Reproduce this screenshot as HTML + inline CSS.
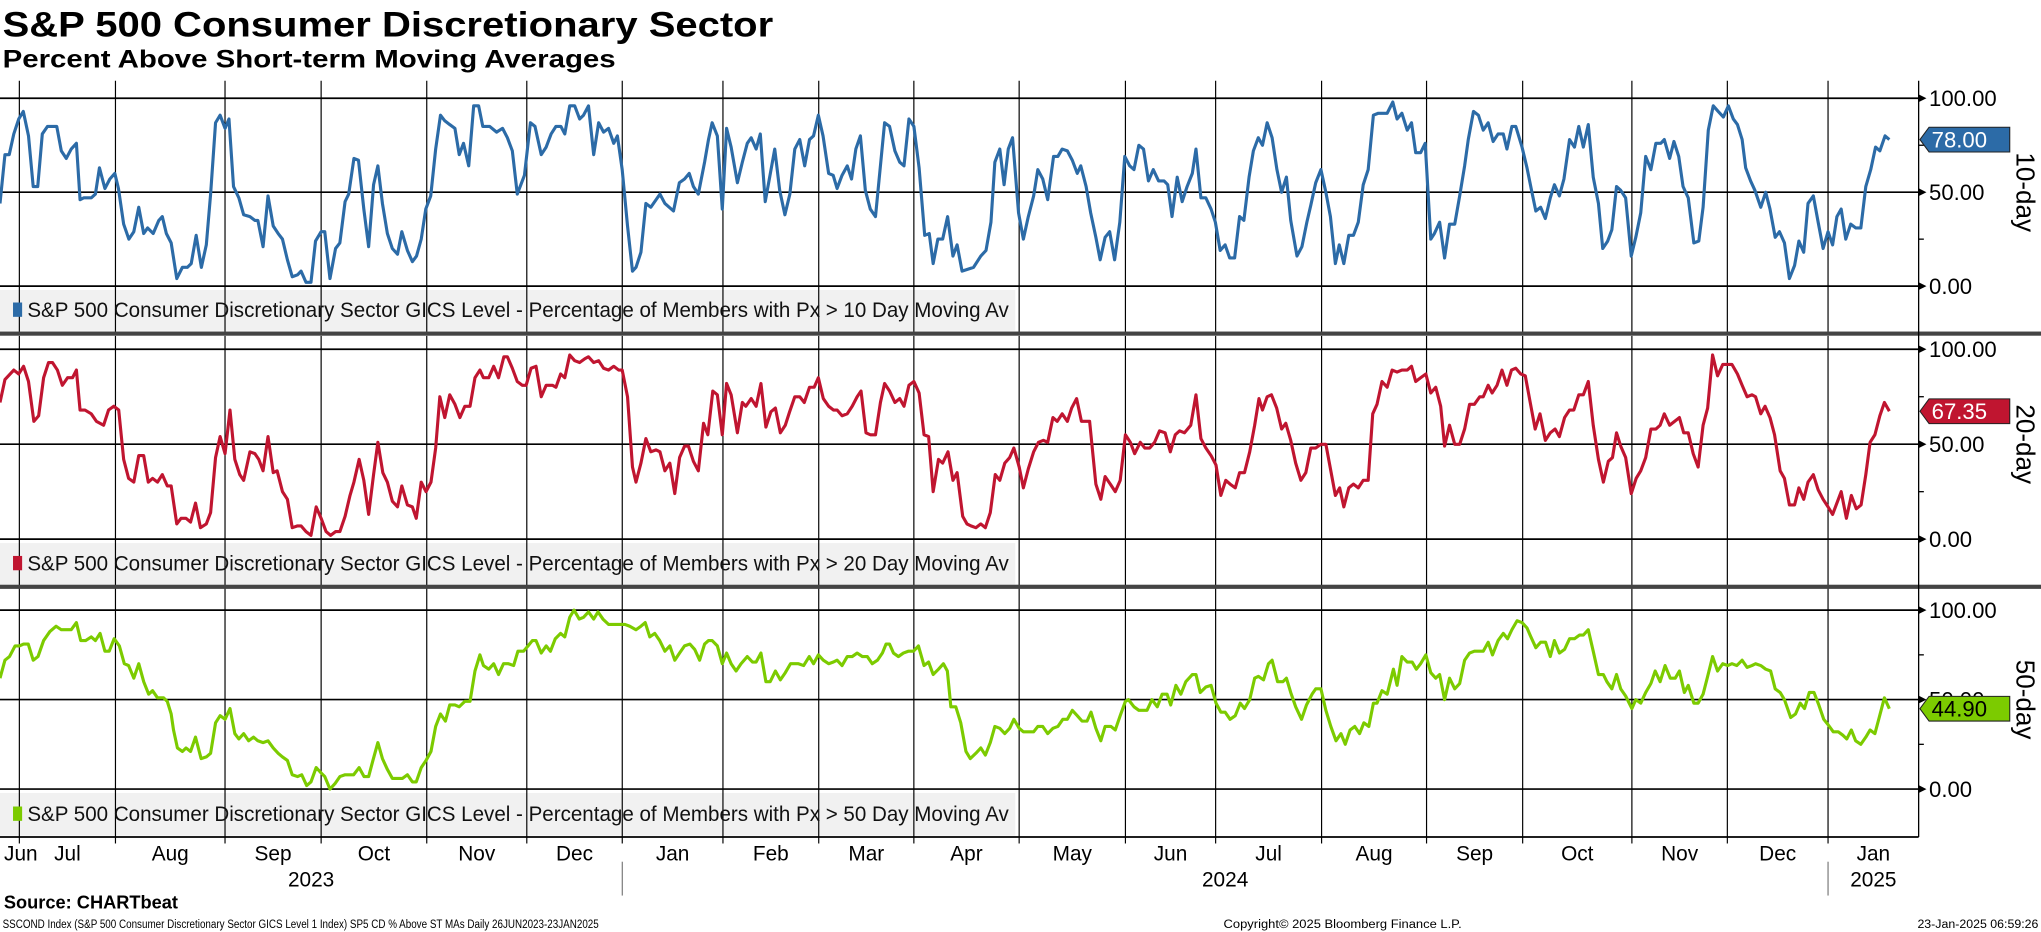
<!DOCTYPE html>
<html><head><meta charset="utf-8"><style>
html,body{margin:0;padding:0;background:#fff;}
svg{display:block;font-family:"Liberation Sans",sans-serif;}
</style></head><body>
<svg id="chart" width="2041" height="932" viewBox="0 0 1568 716" xmlns="http://www.w3.org/2000/svg">
<text x="2" y="28" font-size="27" font-weight="bold" textLength="592" lengthAdjust="spacingAndGlyphs">S&amp;P 500 Consumer Discretionary Sector</text>
<text x="2" y="52" font-size="19" font-weight="bold" textLength="471" lengthAdjust="spacingAndGlyphs">Percent Above Short-term Moving Averages</text>
<g id="layer"></g>
<text x="3" y="698" font-size="14" font-weight="bold">Source: CHARTbeat</text>
<text x="2" y="713" font-size="9.5" textLength="458" lengthAdjust="spacingAndGlyphs">SSCOND Index (S&amp;P 500 Consumer Discretionary Sector GICS Level 1 Index) SP5 CD % Above ST MAs  Daily 26JUN2023-23JAN2025</text>
<text x="940" y="713" font-size="9.5" textLength="183" lengthAdjust="spacingAndGlyphs">Copyright© 2025 Bloomberg Finance L.P.</text>
<text x="1566" y="713" font-size="9.5" text-anchor="end">23-Jan-2025 06:59:26</text>
</svg>
<script>
// ---- data (x = days since 26 Jun 2023, y = percent) ----
const days10=[0,1.5,2.8,4.2,5.7,7.1,8.7,10.1,11.5,12.9,14.5,17.3,18.7,20.2,21.7,23.3,24.4,25.5,27.8,29.1,30.3,32,33.5,35,36.1,37.7,39.3,40.8,42.3,43.8,45,46.7,48.4,49.5,50.7,52.2,53.9,55.6,57.1,58.3,59.8,61.4,62.9,64.2,65.7,67.1,68.6,69.8,71.2,72.8,74.3,76.2,77.7,78.6,80.2,81.7,83.3,84.8,86.1,87.6,89.1,90.7,91.8,93.3,94.8,96.2,97.9,99,100.6,102.3,103.6,105.2,106.3,107.9,109.3,110.9,112.4,113.9,115.2,116.6,118.1,119.6,121.2,122.5,124.2,125.7,127,128.4,129.8,131.3,132.8,134.3,135.6,137.1,138.7,140,141.3,142.9,144.4,145.9,147.2,149.3,151.4,153.2,154.7,156.2,157.7,159.9,161.7,163.1,165,166.5,168,169.5,171,172.2,173.7,175.2,176.7,177.9,179.4,181,182.5,184,185.5,187.1,188.2,189.7,191.3,192.8,193.9,195.4,196.9,198.4,201.2,202.7,205.3,207.1,208.7,210.1,211.4,212.9,214.8,216,217.1,218.7,220.2,221.5,222.9,224.8,226.3,227.8,229,230.5,231.8,233.3,236.2,237.7,239.3,240.8,242.3,243.8,245.3,246.8,248,249.5,250.9,252.6,254,255.2,256.7,258.3,259.6,260.9,262.3,263.8,265.3,266.9,269.7,271.2,272.8,274.3,275.6,277.1,278.6,280.2,281.9,283.3,284.5,285.9,287.4,288.9,290.5,291.8,293.3,296.8,299,300.6,302.1,303.3,304.8,306.1,307.4,308.7,310.5,312,313.5,315.1,316.4,317.9,319.4,321.2,322.5,323.8,325.4,326.9,328.4,329.5,331.1,332.5,334.1,335.4,336.9,338.3,339.8,341.4,342.9,344.4,345.7,347.2,348.6,350.1,351.6,353.2,354.9,356,357.3,358.9,360.4,361.9,363.5,364.6,366.1,367.6,369.2,370.5,372,373.5,374.9,376.4,377.9,379.2,380.8,382.1,383.6,384.9,386.3,387.8,389.3,390.7,392.2,393.5,395.4,396.9,398.4,399.6,401.1,402.7,404.2,405.6,407.1,408.3,409.7,411.2,412.6,414.1,415.6,417.1,418.7,420.2,422.9,424.6,425.9,427.4,429,430.3,431.6,433.1,434.5,436.2,437.3,438.9,440.4,441.9,443.5,445,446.5,447.6,449.2,450.7,452.2,453.7,455.2,456.7,458.3,459.4,460.9,462.1,464,465.5,466.9,468.2,469.7,471.1,472.6,473.9,475.4,476.8,478.5,480,481.3,482.7,484.2,485.7,487.3,488.6,490.1,491.4,492.8,494.1,495.6,497.3,498.7,500.2,501.7,503.3,504.8,506.3,507.4,509,510.3,511.8,513.1,514.7,516.4,517.9,519.2,520.8,522.3,523.8,525.4,526.9,528.4,529.7,531.1,532.2,533.7,535,536.8,538.3,539.6,541.2,542.5,544,545.5,547.1,548.4,549.9,551.2,552.8,554.3,555.8,557.3,558.7,560,561.3,562.7,564.2,565.7,567.3,568.8,570.3,571.8,573.1,574.7,576];
const vals10=[44,70,70,81,89,93,80,53,53,81,85,85,72,68,73,76,46,47,47,49,63,52,57,60,52,33,25,29,42,28,31,28,35,37,28,23,4,10,10,12,27,10,22,49,87,91,84,89,53,47,38,37,35,35,21,48,32,28,25,14,5,6,8,2,2,24,29,29,4,20,23,45,49,68,67,41,21,54,64,44,28,20,17,29,19,13,16,25,41,48,73,91,88,86,84,70,76,64,96,96,85,85,82,84,79,72,49,59,87,85,70,74,81,85,85,81,96,96,89,91,96,70,87,82,84,76,80,62,32,8,10,18,44,42,49,44,40,55,57,60,53,49,66,78,87,80,41,84,74,55,66,76,79,73,81,45,73,51,38,49,73,78,64,78,80,91,80,60,59,52,59,64,57,73,80,51,41,37,87,85,72,66,64,89,85,63,27,28,12,25,25,37,16,22,8,10,16,19,34,66,73,54,73,79,39,25,37,48,62,57,46,69,69,73,72,67,60,64,53,39,26,14,26,29,14,34,69,64,62,75,73,56,62,56,56,54,37,58,45,53,60,73,47,47,41,34,19,22,15,15,37,35,58,72,79,75,87,79,62,50,58,35,16,21,34,43,55,62,50,37,12,22,12,27,27,34,54,62,91,92,92,98,89,92,83,87,71,71,76,25,28,34,15,33,33,48,64,78,93,91,83,87,77,81,81,73,85,85,74,63,51,40,42,36,47,54,48,57,78,74,85,74,86,58,44,20,24,30,53,51,47,16,26,39,69,62,76,76,78,68,77,69,53,47,23,24,42,83,96,93,90,96,89,86,78,63,56,51,42,50,41,26,29,23,4,11,24,18,44,48,34,20,29,22,37,41,25,33,31,31,53,62,74,72,80,78];
const days20=[0,1.5,4.2,5.7,7.2,8.7,10.3,11.8,13.3,14.8,16,17.5,19,20.6,22.1,23.3,24.4,25.9,27.8,29.4,31.6,33.1,34.7,36.2,37.7,39.2,40.8,42.3,43.8,45.2,46.5,48,49.5,51,52.2,53.9,55.2,56.7,58.1,59.6,61.1,62.9,64.2,65.7,67.1,68.6,70.1,71.6,73.1,74.3,76.2,77.7,78.9,80.2,81.7,83.3,84.5,86.1,87.6,89.1,90.7,91.8,93.3,94.8,96.4,97.9,99.4,100.8,102.3,103.6,105.2,106.7,107.9,109.5,110.9,112.4,113.9,115.2,116.7,118.1,119.6,121.2,122.5,124.2,125.7,126.9,128.4,129.9,131.4,132.8,134.1,135.6,137.1,138.7,140.2,141.7,143.3,144.8,146.3,147.4,149,150.5,152,153.6,154.7,156.2,157.7,159.2,160.4,161.9,163.4,165,166.5,168.4,169.5,170.9,172.2,173.7,175.2,176.7,178.3,179.4,181,182.5,184,185.5,187.1,188.6,189.7,191.3,192.8,193.9,195.4,196.9,198.4,200,201.2,202.7,204.2,205.7,207.2,208.7,209.9,211.4,212.9,214.5,215.8,217.3,218.7,220.2,221.5,222.9,224.8,226.3,227.4,229,230.5,232,233.5,235,236.4,237.9,239.4,240.7,242.3,243.8,245.2,246.8,248.2,249.5,251,252.6,254.1,255.2,256.7,258.3,259.8,261.3,262.5,264,265.3,266.9,268.4,269.7,271.2,272.8,274.3,275.6,277.1,278.6,280.2,281.7,283.1,284.5,286.1,287.4,289,290.5,291.8,293.5,294.8,296,297.5,299,300.4,301.9,303.4,304.8,306.3,307.8,309.1,310.7,312,313.5,315.1,316.6,318.1,319.4,321,322.3,323.8,325.4,326.7,328.2,329.7,332.2,334.1,335.6,336.9,338.5,340,341.5,343.1,344.6,345.9,347.6,349,350.5,352,353.5,355.2,356.8,358.3,359.6,361.1,363,364.6,366.1,367.6,369.2,370.7,372.2,373.7,375,376.6,377.9,379.4,381,382.5,383.8,384.9,386.3,387.6,389.2,390.7,392,393.5,395,396.6,398.1,399.6,401.1,402.7,404.2,405.7,407.1,408.4,409.7,411.2,412.6,414.1,415.6,417.1,418.5,419.8,421.3,422.9,424.4,425.9,427.4,429,430.3,431.6,433.1,434.7,436.2,437.7,439.2,440.4,441.9,443.5,445,446.5,448,449.5,451.1,452.2,453.7,454.9,456.4,457.9,459.4,460.8,462.1,463.6,465,466.5,468,469.5,471.1,472.6,474.1,475.4,477,478.5,479.8,481.3,482.7,484.2,485.7,487.3,488.8,490.3,491.6,492.8,494.1,495.6,497.3,498.8,500.2,501.7,503.3,504.8,506.1,507.4,509,510.5,512,513.3,514.7,516.2,517.7,519.2,520.6,522.1,523.6,525.2,528,529.7,531.1,532.6,534.1,535.2,536.8,538.1,539.6,541,542.7,544,545.5,547.1,548.4,549.9,551.2,552.8,554.3,555.8,557.3,558.7,560,561.3,562.9,564.4,565.9,567.4,568.8,570.1,571.6,573.1,574.5,576];
const vals20=[72,84,89,87,91,83,62,65,85,93,93,89,81,85,85,89,68,68,66,62,60,68,70,68,42,32,30,44,44,30,32,30,34,28,28,8,11,11,9,19,6,8,14,43,54,45,68,42,34,31,46,45,42,36,54,35,36,25,21,6,7,7,4,2,17,11,4,2,4,4,12,23,30,42,31,13,34,51,35,30,20,17,28,18,17,11,30,25,30,48,75,64,76,71,64,70,70,85,89,85,85,91,85,96,96,90,83,81,81,90,91,75,81,81,80,87,85,97,94,93,95,96,93,94,90,89,91,89,89,75,38,30,40,53,46,47,46,36,40,24,43,49,49,41,36,61,55,78,76,55,82,76,56,72,70,74,70,82,59,67,69,56,60,67,75,75,72,80,80,85,74,70,68,68,65,66,70,75,78,56,55,55,72,82,78,72,74,70,81,83,77,55,54,25,42,40,46,31,35,12,8,7,6,8,6,14,34,31,40,43,48,38,27,37,46,51,52,51,64,62,66,62,69,74,62,62,29,21,33,29,25,31,55,51,45,51,48,48,51,57,56,46,55,57,56,60,76,53,48,44,39,23,31,29,27,35,35,46,60,74,68,75,76,69,58,61,52,40,31,35,48,48,50,50,36,23,27,17,27,29,27,31,31,66,71,83,80,89,88,89,89,91,83,85,87,77,80,70,49,60,50,50,58,71,71,75,75,81,77,81,89,81,89,90,87,86,72,58,66,52,56,58,54,64,68,68,76,76,83,60,42,30,41,43,56,49,43,24,32,36,43,58,58,60,66,60,62,64,56,56,45,38,60,69,97,86,92,92,87,81,75,76,75,66,70,64,55,36,32,18,18,27,21,30,34,26,21,17,13,19,25,11,23,16,18,34,51,55,65,72,67.35];
const days50=[0,1.5,2.9,4.6,5.9,7.2,8.6,10.1,11.6,13.3,15.2,17.1,18.7,21.7,23.3,24.6,26.1,27.8,29.1,30.5,32,33.3,34.8,36.4,37.9,39.2,40.8,42.3,43.8,45.3,46.5,48,49.9,51,52.2,52.9,54.1,55.6,56.7,58.1,59.6,61.3,62.9,64.2,65.7,67.1,68.6,70.1,71.6,72.8,74.3,75.8,77.3,78.6,80.2,81.7,83.3,84.8,86.1,87.6,89.1,90.7,92,93.5,94.8,96.4,97.9,99,100.6,102.1,103.6,105.2,107.8,109.5,111,112.4,113.7,115.2,116.6,118.1,119.6,122.7,124.2,125.7,126.9,128.4,129.9,131.4,132.8,134.3,135.8,137.1,138.7,140,141.7,143.3,144.8,146.3,147.4,149,150.5,152,153.5,155,156.6,157.9,159.6,161,162.3,163.4,165,166.5,167.8,169.3,170.9,172.2,173.7,175,176.6,177.9,179.4,181,182.3,183.8,185.5,188.6,190.5,192,193.9,195.4,196.7,198.1,199.6,201.1,202.7,204.2,205.7,207.2,208.7,210.3,211.8,213.3,214.8,216,217.1,218.7,220.2,221.5,222.9,224.4,225.9,227.8,229.4,230.5,232,233.5,234.8,236.4,237.9,239.4,241,243.4,245,246.7,248,249.5,251,252.6,254.1,255.2,256.7,258.3,259.8,261.3,262.9,264.4,265.9,267.5,269,270.1,271.2,272.4,273.9,275.4,276.9,278.5,280,281.7,283.1,284.5,286.1,287.6,288.8,289.9,291.4,292.9,294.5,295.8,297.5,299,300.4,301.9,303.3,304.8,306.3,307.8,309.1,310.7,312,315.1,316.4,317.9,319.4,321,322.5,324,325.4,326.9,328.4,329.9,331.4,332.6,334.1,335.6,336.9,338.7,340,341.5,343.1,344,345.7,347.2,349.7,351.2,352.8,354.3,355.8,356.9,358.5,360,361.5,363.5,364.6,365.9,367.6,369.2,370.7,372.2,373.5,375,376.6,378.1,379.4,381,382.5,383.6,385.2,386.7,387.8,389.5,391.1,392.2,393.5,395,396.8,398.3,400,401.1,402.7,404.2,405.7,407.3,408.8,410.1,411.6,413,414.5,415.8,417.3,418.7,419.8,421.3,422.9,424.8,425.9,427.4,429,430.5,431.8,433.1,434.7,436.2,437.7,438.9,440.4,441.9,443.5,445,446.5,448,449.5,452.2,453.7,455,456.7,458.3,459.6,460.9,462.5,464,465.5,466.7,468.2,469.7,471.2,472.6,473.9,475.4,477,478.5,480,481.5,482.7,484.2,485.7,487.3,488.8,489.9,491.4,492.8,494.1,495.6,497.5,498.7,500.2,501.7,503.3,504.6,506.1,507.6,509.2,510.7,512,513.5,514.7,516.4,517.7,519.2,520.6,522.1,523.6,525.2,526.7,528,529.5,531.1,532.6,534.1,535.2,536.8,538.3,539.8,541.2,542.7,544,545.9,547.4,548.8,550.1,551.6,553,554.5,556,557.3,558.9,560.4,561.9,563,564.4,565.7,567.3,568.8,570.1,571.6,572.9,574.5,576];
const vals50=[62,72,74,80,80,81,81,72,74,83,88,91,89,89,93,83,83,85,83,87,77,77,84,80,70,69,62,70,60,53,55,51,51,49,42,33,23,21,23,21,29,17,18,20,37,41,39,45,31,28,31,27,29,27,26,27,23,20,18,16,8,7,8,2,4,12,9,7,0,3,7,8,8,12,7,7,16,26,17,11,6,6,8,4,4,12,16,21,35,42,38,47,47,46,49,49,66,75,69,67,70,64,70,70,69,77,77,80,83,83,76,80,77,84,87,85,96,100,95,96,99,95,99,95,92,92,92,91,89,91,93,85,87,83,77,80,72,76,80,81,78,72,81,83,83,80,70,76,70,66,70,74,71,71,76,60,60,66,61,65,70,70,69,74,70,75,72,70,71,72,69,74,74,76,74,74,70,72,76,81,81,76,74,76,77,77,80,69,71,64,67,70,66,46,46,37,21,17,20,23,19,26,35,34,31,34,39,34,32,32,35,35,31,34,35,39,39,44,41,38,38,43,34,27,35,35,33,41,49,50,46,44,44,50,46,53,53,47,58,53,60,64,64,54,57,58,48,43,43,39,41,48,45,50,62,63,61,70,72,60,60,62,54,46,39,47,53,56,56,44,35,27,31,25,33,35,31,37,35,48,48,55,53,67,58,74,71,71,67,70,75,65,62,64,50,62,56,59,72,76,77,77,82,75,83,87,84,89,94,93,90,85,79,82,82,74,83,76,78,84,84,86,86,89,77,64,64,60,56,64,56,52,45,50,48,54,59,66,60,69,62,62,66,54,58,48,48,53,63,74,66,70,69,70,69,72,68,69,70,69,67,66,56,54,50,40,42,48,45,54,54,47,39,36,32,32,30,28,33,27,25,29,33,31,40,51,44.9];
const monthStarts=[5.9,35.2,68.6,97.9,130.1,160.6,189.7,220.4,249.6,278.6,310.7,343.1,370.6,402.9,434.9,464.2,497.5,526.6,557.3];
const monthLabels=["Jun","Jul","Aug","Sep","Oct","Nov","Dec","Jan","Feb","Mar","Apr","May","Jun","Jul","Aug","Sep","Oct","Nov","Dec","Jan"];
const yearLabels=["2023","2024","2025"];
const yearStarts=[189.7,557.3];
const yTicks=[0,50,100];
const yTickLabels=["0.00","50.00","100.00"];
const lastLabels=["78.00","67.35","44.90"];
const legendTexts=["S&P 500 Consumer Discretionary Sector GICS Level - Percentage of Members with Px > 10 Day Moving Av","S&P 500 Consumer Discretionary Sector GICS Level - Percentage of Members with Px > 20 Day Moving Av","S&P 500 Consumer Discretionary Sector GICS Level - Percentage of Members with Px > 50 Day Moving Av"];
const panelNames=["10-day","20-day","50-day"];

// ---- layout ----
const NS="http://www.w3.org/2000/svg";
const layer=document.getElementById('layer');
const AXIS_X=1474, DAY_PX=2.52, DAY_MAX=576;
const xScale=d=>d*DAY_PX;
const panels=[
 {top:62,bottom:255,y0:219.8,y100:75.5,color:"#2c6ba7",days:days10,vals:vals10,txt:"#fff"},
 {top:258,bottom:450,y0:414.2,y100:268.3,color:"#c01530",days:days20,vals:vals20,txt:"#fff"},
 {top:452,bottom:643,y0:606.2,y100:468.7,color:"#7ccb00",days:days50,vals:vals50,txt:"#000"}
];
function mk(tag,attrs,parent){const e=document.createElementNS(NS,tag);for(const k in attrs)e.setAttribute(k,attrs[k]);(parent||layer).appendChild(e);return e;}

panels.forEach((p,i)=>{
  const yS=v=>p.y0+(p.y100-p.y0)*v/100;
  const g=mk('g',{});
  
  
  // legend background
  const lb=mk('rect',{x:0,y:p.y0+3,width:780,height:p.bottom-p.y0-4,fill:"#f1f1f1"},g);
  
  
  // vertical gridlines
  monthStarts.forEach(d=>{
    const l=mk('line',{x1:xScale(d),x2:xScale(d),y1:p.top,y2:p.bottom,stroke:"#000","stroke-width":0.9},g);
    
    
  });
  // horizontal gridlines + labels
  yTicks.forEach((t,k)=>{
    const y=yS(t);
    const l=mk('line',{x1:0,x2:AXIS_X,y1:y,y2:y,stroke:"#000","stroke-width":1.3},g);
    
    
    const tri=mk('path',{d:`M${AXIS_X} ${y-3}L${AXIS_X+6} ${y}L${AXIS_X} ${y+3}Z`,fill:"#000"},g);
    
    
    const tx=mk('text',{x:1482,y:y+6,"font-size":17},g);
    tx.textContent=yTickLabels[k];
    
    
  });
  [25,75].forEach(t=>{const y=yS(t);mk('line',{x1:AXIS_X,x2:AXIS_X+4,y1:y,y2:y,stroke:"#000","stroke-width":1},g);});
  // legend entry
  const sw=mk('rect',{x:10,y:(p.y0+p.bottom)/2-5,width:7,height:11,fill:p.color},g);
  
  
  const lt=mk('text',{x:21,y:(p.y0+p.bottom)/2+6,"font-size":16,fill:"#111",textLength:754,lengthAdjust:"spacingAndGlyphs"},g);
  lt.textContent=legendTexts[i];
  
  
  // series line
  const pts=p.days.map((d,k)=>xScale(d).toFixed(1)+','+yS(p.vals[k]).toFixed(1)).join(' ');
  const pl=mk('polyline',{points:pts,fill:"none",stroke:p.color,"stroke-width":2.4,"stroke-linejoin":"round"},g);
  
  
  // last value tag
  const lv=p.vals[p.vals.length-1], ly=yS(lv);
  const tag=mk('path',{d:`M${AXIS_X+1} ${ly}L${AXIS_X+8} ${ly-9.5}H1544V${ly+9.5}H${AXIS_X+8}Z`,fill:p.color,stroke:"#222","stroke-width":0.8},g);
  
  
  const tt=mk('text',{x:1484,y:ly+6,"font-size":17,fill:p.txt},g);
  tt.textContent=lastLabels[i];
  
  
  // panel name
  const cy=yS(50);
  const pn=mk('text',{x:1556,y:cy,"font-size":20,"text-anchor":"middle",transform:`rotate(90 1556 ${cy})`,dy:7},g);
  pn.textContent=panelNames[i];
  
  
});
// separators
[256.3,450.8].forEach(y=>{
  const s=mk('rect',{x:0,y:y-1.6,width:1568,height:3.2,fill:"#444"});
  
  
});
// right axis
const ax=mk('line',{x1:AXIS_X,x2:AXIS_X,y1:62,y2:643,stroke:"#000","stroke-width":1});


// bottom axis
const bx=mk('line',{x1:0,x2:AXIS_X,y1:643,y2:643,stroke:"#000","stroke-width":1.3});


monthStarts.forEach(d=>{mk('line',{x1:xScale(d),x2:xScale(d),y1:643,y2:648,stroke:"#000","stroke-width":0.9});});
const bounds=[-1].concat(monthStarts).concat([AXIS_X/DAY_PX]);
monthLabels.forEach((m,k)=>{
  let cx=(xScale(bounds[k])+xScale(bounds[k+1]))/2;
  if(k===0) cx=16;
  const t=mk('text',{x:cx,y:661,"font-size":16,"text-anchor":"middle"});
  t.textContent=m;
  
  
});
const yb=[0].concat(yearStarts).concat([AXIS_X/DAY_PX]);
yearLabels.forEach((yl,k)=>{
  const cx=(xScale(yb[k])+xScale(yb[k+1]))/2;
  const t=mk('text',{x:cx,y:681,"font-size":16,"text-anchor":"middle"});
  t.textContent=yl;
  
  
});
yearStarts.forEach(d=>{
  const l=mk('line',{x1:xScale(d),x2:xScale(d),y1:662,y2:688,stroke:"#666","stroke-width":0.8});
  
  
});
</script>
</body></html>
